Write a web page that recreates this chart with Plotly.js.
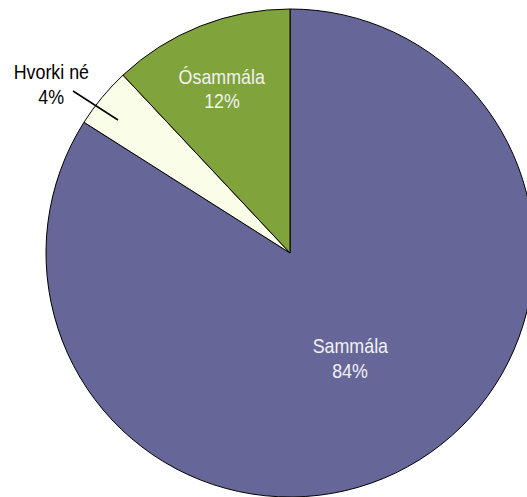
<!DOCTYPE html>
<html><head><meta charset="utf-8">
<script src="https://cdn.plot.ly/plotly-3.0.1.min.js"></script>
<style>html,body{margin:0;padding:0;overflow:hidden;background:#fff;}</style>
</head><body><div id="chart"></div>
<script>
const labels = ["Sammála", "Hvorki né", "Ósammála"];
const values = [84, 4, 12];
const colors = ["#666699", "#FAFDE8", "#80A33C"];

const W = 580, H = 497, L = 46, T = 9, S = 488;
function px(x){ return (x - L) / S; }
function py(y){ return 1 - (y - T) / S; }
const font = {family: "'Liberation Sans', Arial, sans-serif", size: 21};

const total = values.reduce((a,b)=>a+b,0);
const pct = values.map(v => Math.round(v/total*100) + "%");

// label placement (pixel centres of each text line)
const place = [
  {i:0, x:350, y1:345, y2:370, color:"#f2f2f2"},
  {i:2, x:222, y1:76,  y2:100, color:"#f2f2f2"},
  {i:1, x:51,  y1:72,  y2:96,  color:"#000"}
];
const ann = [];
place.forEach(p => {
  [[labels[p.i], p.y1], [pct[p.i], p.y2]].forEach(([t, y]) => {
    ann.push({xref:"paper", yref:"paper", x:px(p.x), y:py(y), text:t, showarrow:false,
      font: Object.assign({}, font, {color:p.color}), xanchor:"center", yanchor:"middle",
      borderpad:0});
  });
});

Plotly.newPlot("chart", [{
  type: "pie",
  labels: labels,
  values: values,
  sort: false,
  direction: "clockwise",
  rotation: 0,
  marker: {colors: colors, line: {color: "#000", width: 1}},
  textinfo: "none",
  hoverinfo: "none",
  domain: {x:[0,1], y:[0,1]}
}], {
  width: W, height: H,
  margin: {l: L, r: W - L - S, t: T, b: H - T - S},
  showlegend: false,
  paper_bgcolor: "#fff",
  annotations: ann,
  shapes: [{type:"line", xref:"paper", yref:"paper", x0:px(73), y0:py(91), x1:px(118), y1:py(120), line:{color:"#000", width:1.5}}]
}, {staticPlot: true}).then(() => {
  // emulate a narrow typeface
  document.querySelectorAll("#chart .annotation-text").forEach(el => {
    const len = el.getComputedTextLength();
    el.setAttribute("textLength", (len * 0.85).toFixed(1));
    el.setAttribute("lengthAdjust", "spacingAndGlyphs");
  });
});
</script></body></html>
